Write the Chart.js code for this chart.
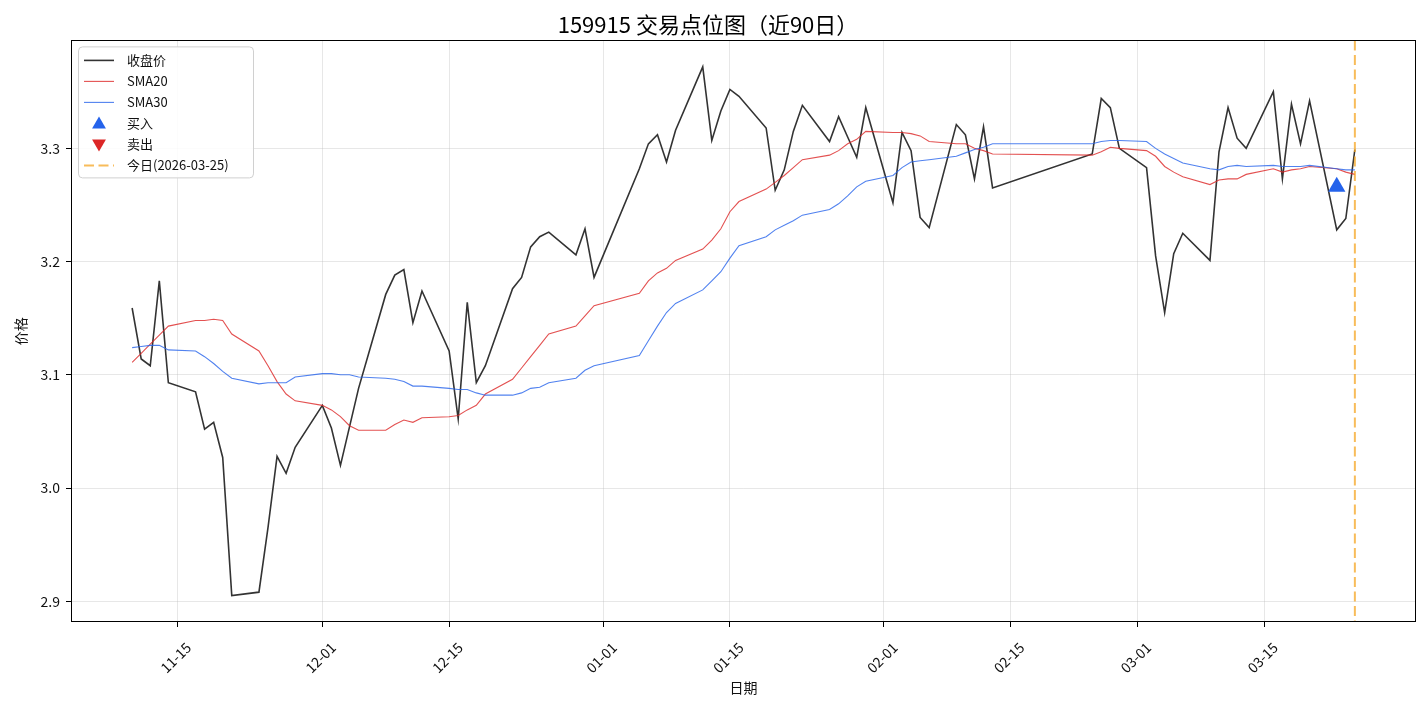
<!DOCTYPE html>
<html>
<head>
<meta charset="utf-8">
<title>159915 交易点位图</title>
<script src="https://cdn.jsdelivr.net/npm/chart.js@4.4.1/dist/chart.umd.min.js"></script>
<style>
  html, body { margin: 0; padding: 0; background: #fff; }
  #wrap { width: 1427px; height: 706px; }
</style>
</head>
<body>
<div id="wrap"><canvas id="myChart" width="1427" height="706"></canvas></div>
<script>
// trading days shown (近90日)
var dates = [
  '2025-11-10','2025-11-11','2025-11-12','2025-11-13','2025-11-14',
  '2025-11-17','2025-11-18','2025-11-19','2025-11-20','2025-11-21',
  '2025-11-24','2025-11-25','2025-11-26','2025-11-27','2025-11-28',
  '2025-12-01','2025-12-02','2025-12-03','2025-12-04','2025-12-05',
  '2025-12-08','2025-12-09','2025-12-10','2025-12-11','2025-12-12',
  '2025-12-15','2025-12-16','2025-12-17','2025-12-18','2025-12-19',
  '2025-12-22','2025-12-23','2025-12-24','2025-12-25','2025-12-26',
  '2025-12-29','2025-12-30','2025-12-31',
  '2026-01-05','2026-01-06','2026-01-07','2026-01-08','2026-01-09',
  '2026-01-12','2026-01-13','2026-01-14','2026-01-15','2026-01-16',
  '2026-01-19','2026-01-20','2026-01-21','2026-01-22','2026-01-23',
  '2026-01-26','2026-01-27','2026-01-28','2026-01-29','2026-01-30',
  '2026-02-02','2026-02-03','2026-02-04','2026-02-05','2026-02-06',
  '2026-02-09','2026-02-10','2026-02-11','2026-02-12','2026-02-13',
  '2026-02-24','2026-02-25','2026-02-26','2026-02-27',
  '2026-03-02','2026-03-03','2026-03-04','2026-03-05','2026-03-06',
  '2026-03-09','2026-03-10','2026-03-11','2026-03-12','2026-03-13',
  '2026-03-16','2026-03-17','2026-03-18','2026-03-19','2026-03-20',
  '2026-03-23','2026-03-24','2026-03-25'
];

var closePrices = [
  3.159, 3.114, 3.108, 3.183, 3.093,
  3.085, 3.052, 3.058, 3.027, 2.905,
  2.908, 2.965, 3.028, 3.013, 3.036,
  3.073, 3.053, 3.020, 3.054, 3.088,
  3.171, 3.188, 3.193, 3.146, 3.174,
  3.121, 3.061, 3.164, 3.093, 3.108,
  3.176, 3.186, 3.213, 3.222, 3.226,
  3.206, 3.229, 3.186,
  3.282, 3.304, 3.312, 3.288, 3.316,
  3.372, 3.307, 3.333, 3.352, 3.346,
  3.318, 3.263, 3.281, 3.315, 3.338,
  3.306, 3.328, 3.310, 3.292, 3.336,
  3.252, 3.314, 3.298, 3.239, 3.230,
  3.321, 3.312, 3.273, 3.319, 3.265,
  3.295, 3.344, 3.336, 3.300,
  3.283, 3.205, 3.155, 3.207, 3.225,
  3.201, 3.297, 3.336, 3.309, 3.300,
  3.350, 3.273, 3.339, 3.304, 3.342,
  3.228, 3.238, 3.299
];

var sma20 = [
  3.111, 3.119, 3.127, 3.135, 3.143,
  3.148, 3.148, 3.149, 3.148, 3.136,
  3.121, 3.108, 3.094, 3.083, 3.077,
  3.073, 3.069, 3.063, 3.055, 3.051,
  3.051, 3.056, 3.060, 3.058, 3.062,
  3.063, 3.064, 3.069, 3.073, 3.083,
  3.096, 3.106, 3.116, 3.126, 3.136,
  3.143, 3.152, 3.161,
  3.172, 3.183, 3.190, 3.194, 3.201,
  3.211, 3.219, 3.229, 3.244, 3.253,
  3.264, 3.270, 3.276, 3.283, 3.290,
  3.294, 3.298, 3.304, 3.308, 3.315,
  3.314, 3.314, 3.313, 3.311, 3.306,
  3.304, 3.304, 3.300, 3.298, 3.295,
  3.294, 3.297, 3.301, 3.300,
  3.298, 3.293, 3.284, 3.279, 3.275,
  3.268, 3.272, 3.273, 3.273, 3.277,
  3.282, 3.279, 3.281, 3.282, 3.284,
  3.282, 3.279, 3.277
];

var sma30 = [
  3.124, 3.125, 3.126, 3.126, 3.122,
  3.121, 3.116, 3.110, 3.103, 3.097,
  3.092, 3.093, 3.093, 3.093, 3.098,
  3.101, 3.101, 3.100, 3.100, 3.098,
  3.097, 3.096, 3.094, 3.090, 3.090,
  3.088, 3.087, 3.087, 3.084, 3.082,
  3.082, 3.084, 3.088, 3.089, 3.093,
  3.097, 3.104, 3.108,
  3.117, 3.130, 3.143, 3.155, 3.163,
  3.175, 3.183, 3.191, 3.203, 3.214,
  3.222, 3.228, 3.232, 3.236, 3.241,
  3.246, 3.251, 3.258, 3.266, 3.271,
  3.276, 3.283, 3.288, 3.289, 3.290,
  3.293, 3.296, 3.299, 3.301, 3.304,
  3.304, 3.306, 3.307, 3.307,
  3.306, 3.300, 3.295, 3.291, 3.287,
  3.282, 3.281, 3.284, 3.285, 3.284,
  3.285, 3.284, 3.284, 3.284, 3.285,
  3.282, 3.281, 3.281
];

var buyDates = ['2026-03-23'];
var buyPrices = [3.266];
var sellDates = [];
var sellPrices = [];
var todayDate = '2026-03-25';

var xTickDates = ['2025-11-15','2025-12-01','2025-12-15','2026-01-01','2026-01-15','2026-02-01','2026-02-15','2026-03-01','2026-03-15'];
var xTickLabels = ['11-15','12-01','12-15','01-01','01-15','02-01','02-15','03-01','03-15'];
var yTicks = [2.9, 3.0, 3.1, 3.2, 3.3];

var closeColor = 'rgba(34, 34, 34, 0.92)';
var sma20Color = 'rgba(220, 38, 38, 0.8)';
var sma30Color = 'rgba(37, 99, 235, 0.8)';
var buyColor = '#2563eb';
var sellColor = '#dc2626';
var todayColor = 'rgba(245, 166, 35, 0.75)';

function dayNum(s) {
  var p = s.split('-');
  return Date.UTC(+p[0], +p[1] - 1, +p[2]) / 86400000;
}
function pairs(ds, vs) {
  return ds.map(function (d, i) { return {x: dayNum(d), y: vs[i]}; });
}

// matplotlib-like 5% margins
var xs = dates.map(dayNum);
var xMin = Math.min.apply(null, xs), xMax = Math.max.apply(null, xs);
var xPad = (xMax - xMin) * 0.05;
var allY = closePrices.concat(sma20, sma30, buyPrices, sellPrices);
var yMin = Math.min.apply(null, allY), yMax = Math.max.apply(null, allY);
var yPad = (yMax - yMin) * 0.05;

Chart.defaults.font.family = "'Noto Sans CJK SC', 'DejaVu Sans', sans-serif";
Chart.defaults.color = '#111';

var todayLine = {
  id: 'todayLine',
  afterDatasetsDraw: function (chart) {
    var ctx = chart.ctx, area = chart.chartArea;
    var px = chart.scales.x.getPixelForValue(dayNum(todayDate));
    ctx.save();
    ctx.strokeStyle = todayColor;
    ctx.lineWidth = 2;
    ctx.setLineDash([10, 4.5]);
    ctx.beginPath();
    ctx.moveTo(px, area.top);
    ctx.lineTo(px, area.bottom);
    ctx.stroke();
    ctx.restore();
  }
};

function triangle(ctx, x, y, r, down) {
  var s = down ? -1 : 1;
  ctx.beginPath();
  ctx.moveTo(x, y - s * r);
  ctx.lineTo(x + r * 0.866, y + s * r * 0.5);
  ctx.lineTo(x - r * 0.866, y + s * r * 0.5);
  ctx.closePath();
  ctx.fill();
}

var frameAndLegend = {
  id: 'frameAndLegend',
  afterDraw: function (chart) {
    var ctx = chart.ctx, a = chart.chartArea;
    ctx.save();
    // axes frame
    ctx.strokeStyle = '#000';
    ctx.lineWidth = 1;
    ctx.strokeRect(Math.round(a.left) + 0.5, Math.round(a.top) + 0.5,
      Math.round(a.right - a.left) - 1, Math.round(a.bottom - a.top) - 1);

    // legend box
    var bx = a.left + 7, by = a.top + 6, bw = 175, bh = 131;
    ctx.fillStyle = 'rgba(255,255,255,0.85)';
    ctx.strokeStyle = '#d0d0d0';
    ctx.beginPath();
    ctx.roundRect(bx + 0.5, by + 0.5, bw, bh, 4);
    ctx.fill();
    ctx.stroke();

    var items = chart.data.datasets.map(function (d) {
      return {label: d.label, color: d.borderColor, width: d.borderWidth, style: d.pointStyle, rot: d.rotation || 0};
    });
    items.push({label: '今日(' + todayDate + ')', color: todayColor, width: 2, dash: [10, 4.5]});

    ctx.font = "13px 'Noto Sans CJK SC', sans-serif";
    ctx.textBaseline = 'middle';
    items.forEach(function (it, i) {
      var y = by + 14 + i * 21;
      var x0 = bx + 6, x1 = bx + 36;
      if (it.style === 'triangle') {
        ctx.fillStyle = it.color;
        triangle(ctx, (x0 + x1) / 2, y + (it.rot ? -1 : 1), 8, it.rot === 180);
      } else {
        ctx.strokeStyle = it.color;
        ctx.lineWidth = it.width;
        ctx.setLineDash(it.dash || []);
        ctx.beginPath();
        ctx.moveTo(x0, y);
        ctx.lineTo(x1, y);
        ctx.stroke();
        ctx.setLineDash([]);
      }
      ctx.fillStyle = '#111';
      ctx.fillText(it.label, bx + 49, y);
    });
    ctx.restore();
  }
};

var ctx = document.getElementById('myChart').getContext('2d');
var myChart = new Chart(ctx, {
  type: 'line',
  data: {
    datasets: [
      {
        label: '收盘价',
        data: pairs(dates, closePrices),
        borderColor: closeColor,
        borderWidth: 1.6,
        pointRadius: 0,
        tension: 0,
        order: 4
      },
      {
        label: 'SMA20',
        data: pairs(dates, sma20),
        borderColor: sma20Color,
        borderWidth: 1.1,
        pointRadius: 0,
        tension: 0,
        order: 3
      },
      {
        label: 'SMA30',
        data: pairs(dates, sma30),
        borderColor: sma30Color,
        borderWidth: 1.1,
        pointRadius: 0,
        tension: 0,
        order: 2
      },
      {
        type: 'scatter',
        label: '买入',
        data: pairs(buyDates, buyPrices),
        pointStyle: 'triangle',
        pointRadius: 10,
        borderColor: buyColor,
        backgroundColor: buyColor,
        borderWidth: 0,
        order: 1
      },
      {
        type: 'scatter',
        label: '卖出',
        data: pairs(sellDates, sellPrices),
        pointStyle: 'triangle',
        rotation: 180,
        pointRadius: 10,
        borderColor: sellColor,
        backgroundColor: sellColor,
        borderWidth: 0,
        order: 0
      }
    ]
  },
  options: {
    responsive: false,
    animation: false,
    layout: { padding: { left: 0, right: 11, top: 0, bottom: 0 } },
    plugins: {
      legend: { display: false },
      tooltip: { enabled: false },
      title: {
        display: true,
        text: '159915 交易点位图（近90日）',
        color: '#000',
        font: { size: 22, weight: 'normal' },
        padding: { top: 11, bottom: 3 }
      }
    },
    scales: {
      x: {
        type: 'linear',
        min: xMin - xPad,
        max: xMax + xPad,
        afterBuildTicks: function (scale) {
          scale.ticks = xTickDates.map(function (d) { return {value: dayNum(d)}; });
        },
        afterFit: function (scale) { scale.height = 84; },
        ticks: {
          autoSkip: false,
          minRotation: 45,
          maxRotation: 45,
          labelOffset: 11,
          padding: 12,
          font: { size: 14 },
          callback: function (v) {
            var i = xTickDates.map(dayNum).indexOf(v);
            return i >= 0 ? xTickLabels[i] : '';
          }
        },
        grid: { color: 'rgba(176,176,176,0.3)', tickColor: '#000', tickLength: 5 },
        border: { display: false },
        title: { display: true, text: '日期', font: { size: 14 }, padding: { top: 0, bottom: 10 } }
      },
      y: {
        min: yMin - yPad,
        max: yMax + yPad,
        afterBuildTicks: function (scale) {
          scale.ticks = yTicks.map(function (v) { return {value: v}; });
        },
        afterFit: function (scale) { scale.width = 71; },
        ticks: {
          padding: 6,
          font: { size: 14 },
          callback: function (v) { return v.toFixed(1); }
        },
        grid: { color: 'rgba(176,176,176,0.3)', tickColor: '#000', tickLength: 5 },
        border: { display: false },
        title: { display: true, text: '价格', font: { size: 14 }, padding: { top: 12, bottom: 0 } }
      }
    }
  },
  plugins: [todayLine, frameAndLegend]
});
</script>
</body>
</html>
